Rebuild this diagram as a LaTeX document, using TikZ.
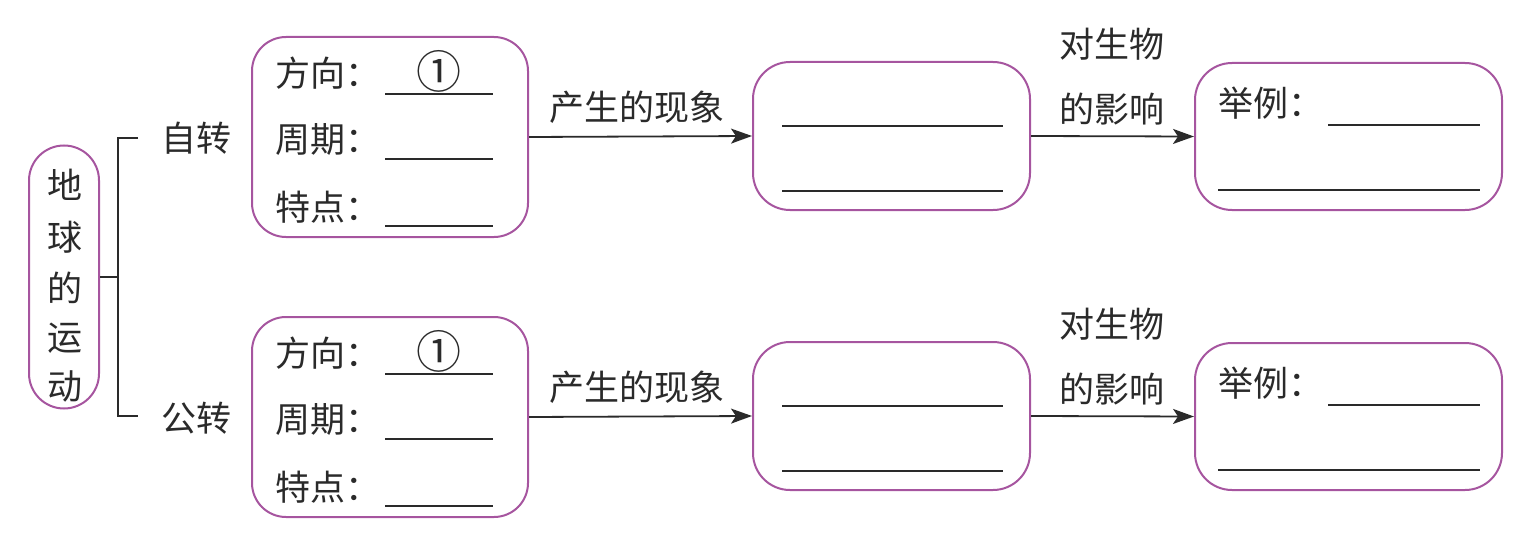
\documentclass[tikz,border=0pt]{standalone}
\usepackage{fontspec}
\setmainfont{Noto Sans CJK SC}
\usetikzlibrary{arrows.meta}
\definecolor{boxpurple}{HTML}{A6559F}
\definecolor{ink}{HTML}{2A2A2A}
\tikzset{
  rbox/.style={draw=boxpurple, line width=2pt, rounded corners=34pt, inner sep=0pt},
  txt/.style={font=\fontsize{35}{42}\selectfont, text=ink, inner sep=0pt},
  blank/.style={draw=ink, line width=2pt},
  arr/.style={draw=ink, line width=1.8pt, -{Stealth[length=21pt,width=15pt,inset=5pt]}},
  brk/.style={draw=ink, line width=1.8pt},
}
\begin{document}
\begin{tikzpicture}[x=1pt,y=-1pt]
\useasboundingbox (0,0) rectangle (1529,535);
% main pill
\node[rbox, rounded corners=35pt, minimum width=70pt, minimum height=263pt] (pill) at (64,277) {};
\foreach \c/\y [count=\i] in {地/185,球/237,的/288,运/338,动/386}
  \node[txt] (p\i) at (65,\y) {\c};
% bracket
\coordinate (bmid) at (118,277);
\coordinate (btop) at (118,138);
\coordinate (bbot) at (118,416);
\coordinate (ttop) at (138,138);
\coordinate (tbot) at (138,416);
\draw[brk] (pill.east) -- (bmid);
\draw[brk] (ttop) -- (btop) -- (bbot) -- (tbot);
\node[txt] (zi) at (196,138) {自转};
\node[txt] (gong) at (196,418) {公转};
\foreach \r/\dy in {a/0,b/280}{
  % box 1
  \node[rbox, minimum width=276pt, minimum height=200pt] (bx1\r) at (390,137+\dy) {};
  \node[txt, anchor=west] (fx\r) at (275,73+\dy) {方向：};
  \node[txt, anchor=west] (zq\r) at (275,140+\dy) {周期：};
  \node[txt, anchor=west] (td\r) at (275,207+\dy) {特点：};
  \node[txt, font=\fontsize{45}{50}\selectfont] (one\r) at (439,71+\dy) {①};
  \draw[blank] (385,94+\dy) -- (493,94+\dy);
  \draw[blank] (385,159+\dy) -- (493,159+\dy);
  \draw[blank] (385,226+\dy) -- (493,226+\dy);
  % box 2
  \node[rbox, rounded corners=37pt, minimum width=277pt, minimum height=148pt] (bx2\r) at (891.5,136+\dy) {};
  \draw[blank] (782,126+\dy) -- (1003,126+\dy);
  \draw[blank] (782,191+\dy) -- (1003,191+\dy);
  % box 3
  \node[rbox, rounded corners=37pt, minimum width=307pt, minimum height=147pt] (bx3\r) at (1348.5,136.5+\dy) {};
  \node[txt, anchor=west] (jl\r) at (1218,103+\dy) {举例：};
  \draw[blank] (1328,125+\dy) -- (1480,125+\dy);
  \draw[blank] (1218,190+\dy) -- (1480,190+\dy);
  % arrows
  \draw[arr] (bx1\r.east) -- (bx2\r.west);
  \draw[arr] (bx2\r.east) -- (bx3\r.west);
  \node[txt] (cs\r) at (637,107+\dy) {产生的现象};
  \node[txt] (ds\r) at (1112,44+\dy) {对生物};
  \node[txt] (dy\r) at (1112,109+\dy) {的影响};
}
\end{tikzpicture}
\end{document}
